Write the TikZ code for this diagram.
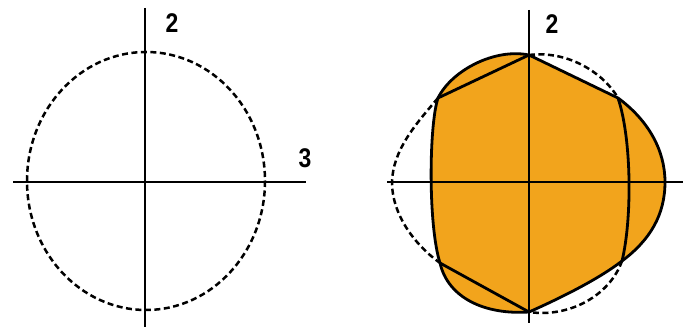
\documentclass[tikz,border=0pt]{standalone}
\usepackage{fontspec}
\setmainfont{Liberation Sans}
\definecolor{marker}{RGB}{242,164,28}
\begin{document}
\begin{tikzpicture}[
    x=1pt, y=-1pt,
    axis/.style   ={line width=2.7pt},
    refline/.style={line width=2.5pt, dash pattern=on 6pt off 3.5pt},
    outline/.style={line width=2.8pt, line join=round},
    lbl/.style    ={font=\fontsize{27}{27}\selectfont\bfseries, xscale=0.85,
                    inner sep=0pt},
]
\useasboundingbox (0,0) rectangle (683,328);
% left: nominal circle
\coordinate (o1) at (145,182);
\draw[refline] (146,181) ellipse [x radius=119, y radius=129];
\draw[axis] (145,8) -- (145,327);
\draw[axis] (13,182) -- (306,182);
\node[lbl] (v1) at (172,23) {2};
\node[lbl] (h1) at (305,158) {3};
% right: three-lobed section
\coordinate (t)  at (529,55);
\coordinate (ul) at (438,98);
\coordinate (ll) at (440,263);
\coordinate (b)  at (529,312);
\coordinate (lr) at (622,261);
\coordinate (ur) at (618,98);
\coordinate (e)  at (665,182);
\fill[marker] (t) .. controls (495,48) and (452,70) .. (ul)
    .. controls (429,125) and (428,225) .. (ll)
    .. controls (448,298) and (485,315) .. (b)
    .. controls (565,296) and (600,278) .. (lr)
    .. controls (650,240) and (665,215) .. (e)
    .. controls (665,150) and (648,120) .. (ur) -- cycle;
\draw[refline] (t) .. controls (570,50) and (605,75) .. (ur);
\draw[refline] (lr) .. controls (610,295) and (570,318) .. (b);
\draw[refline] (ul) .. controls (415,125) and (393,150) .. (392,182)
    .. controls (392,215) and (415,245) .. (ll);
\draw[outline] (t) .. controls (495,48) and (452,70) .. (ul)
    .. controls (429,125) and (428,225) .. (ll)
    .. controls (448,298) and (485,315) .. (b)
    .. controls (565,296) and (600,278) .. (lr)
    .. controls (650,240) and (665,215) .. (e)
    .. controls (665,150) and (648,120) .. (ur) -- cycle;
\draw[outline] (t) -- (ul);
\draw[outline] (ll) -- (b);
\draw[outline] (ur) .. controls (632,140) and (632,220) .. (lr);
\draw[axis] (529,10) -- (529,323);
\draw[axis] (387,182) -- (683,182);
\node[lbl] (v2) at (552,24) {2};
\node[lbl] (h2) at (689,158) {3};
\end{tikzpicture}
\end{document}
